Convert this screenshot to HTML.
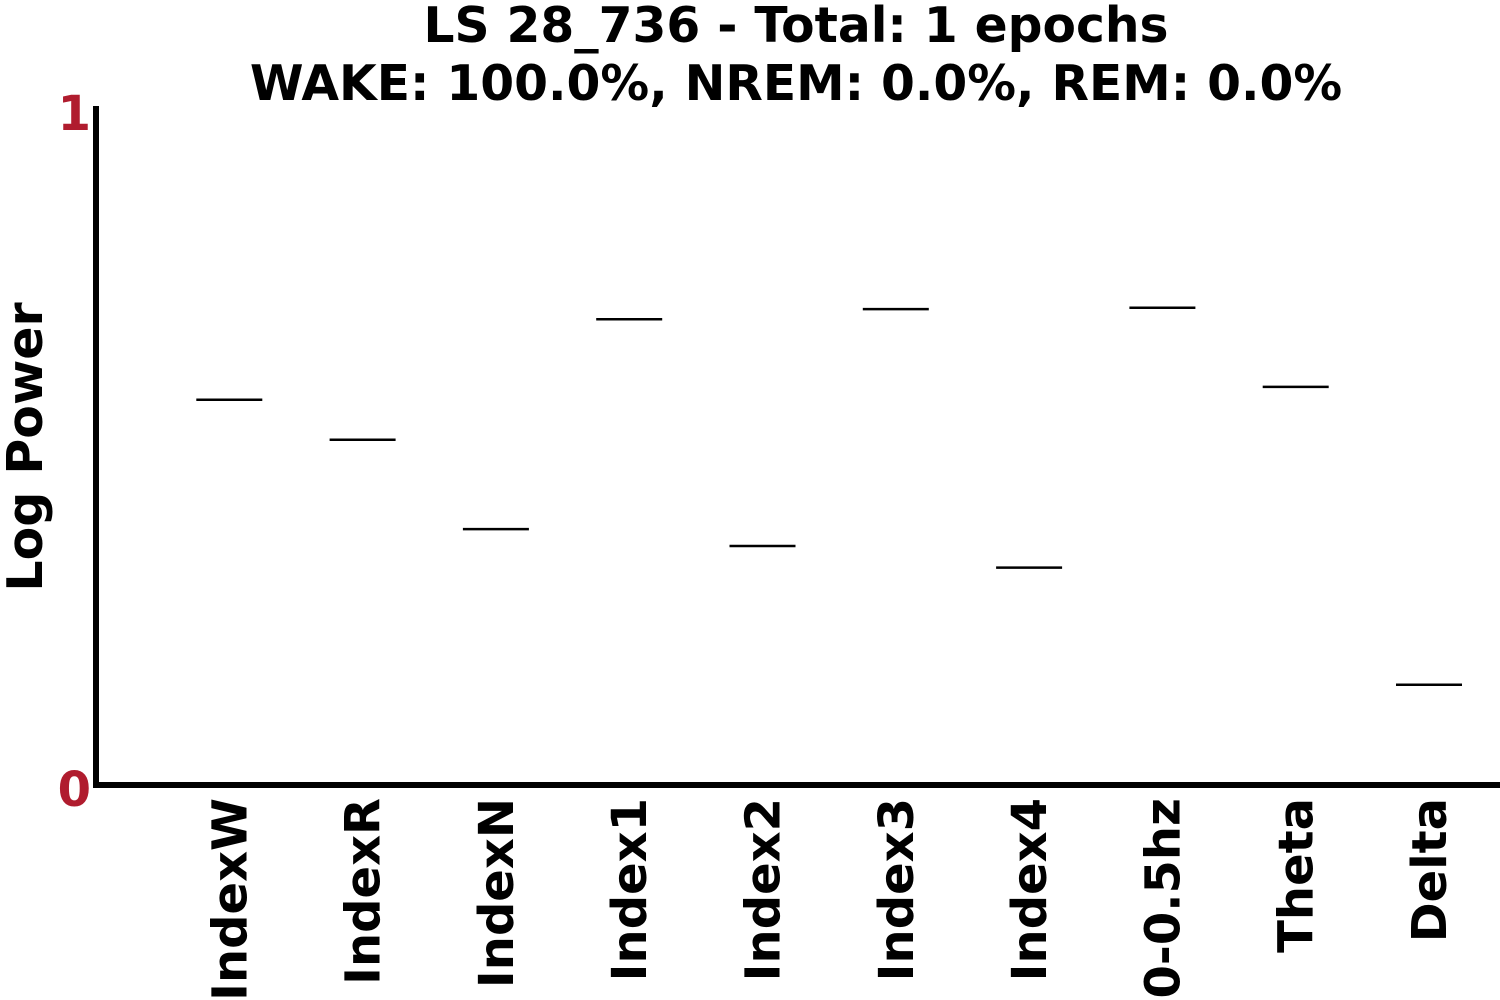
<!DOCTYPE html>
<html><head><meta charset="utf-8"><style>
body{margin:0;background:#fff;}
svg{display:block;font-family:"DejaVu Sans","Liberation Sans",sans-serif;font-weight:bold;}
</style></head><body>
<svg id="chart" width="1500" height="1000" viewBox="0 0 1500 1000">
<text x="796" y="42" font-size="48.7" text-anchor="middle">LS 28_736 - Total: 1 epochs</text>
<text x="796" y="100" font-size="48.7" text-anchor="middle">WAKE: 100.0%, NREM: 0.0%, REM: 0.0%</text>
<text transform="translate(42,447) rotate(-90)" font-size="49" text-anchor="middle">Log Power</text>
<line x1="96" y1="106" x2="96" y2="788" stroke="#000" stroke-width="6"/>
<line x1="93" y1="785" x2="1500" y2="785" stroke="#000" stroke-width="6"/>
<text x="91" y="130" font-size="48" fill="#b01c2e" text-anchor="end">1</text>
<text x="91" y="806" font-size="48" fill="#b01c2e" text-anchor="end">0</text>
<g id="marks"></g>
</svg>
<script>
const categories = ["IndexW","IndexR","IndexN","Index1","Index2","Index3","Index4","0-0.5hz","Theta","Delta"];
const values = [0.569,0.510,0.378,0.688,0.353,0.703,0.321,0.705,0.588,0.148];
const NS="http://www.w3.org/2000/svg";
const y0=785, y1=108;
function yScale(v){return y0-(y0-y1)*v;}
function xScale(i){return 96+133.3*(i+1);}
const g=document.getElementById('marks');
categories.forEach((c,i)=>{
  const x=xScale(i), y=yScale(values[i]);
  const l=document.createElementNS(NS,'line');
  l.setAttribute('x1',x-33);l.setAttribute('x2',x+33);
  l.setAttribute('y1',y);l.setAttribute('y2',y);
  l.setAttribute('stroke','#000');l.setAttribute('stroke-width','2.5');
  
  
  g.appendChild(l);
  const t=document.createElementNS(NS,'text');
  t.setAttribute('transform','translate('+(x+17)+',798) rotate(-90)');
  t.setAttribute('text-anchor','end');
  t.setAttribute('font-size','48');
  t.textContent=c;
  
  
  g.appendChild(t);
});
</script>
</body></html>
